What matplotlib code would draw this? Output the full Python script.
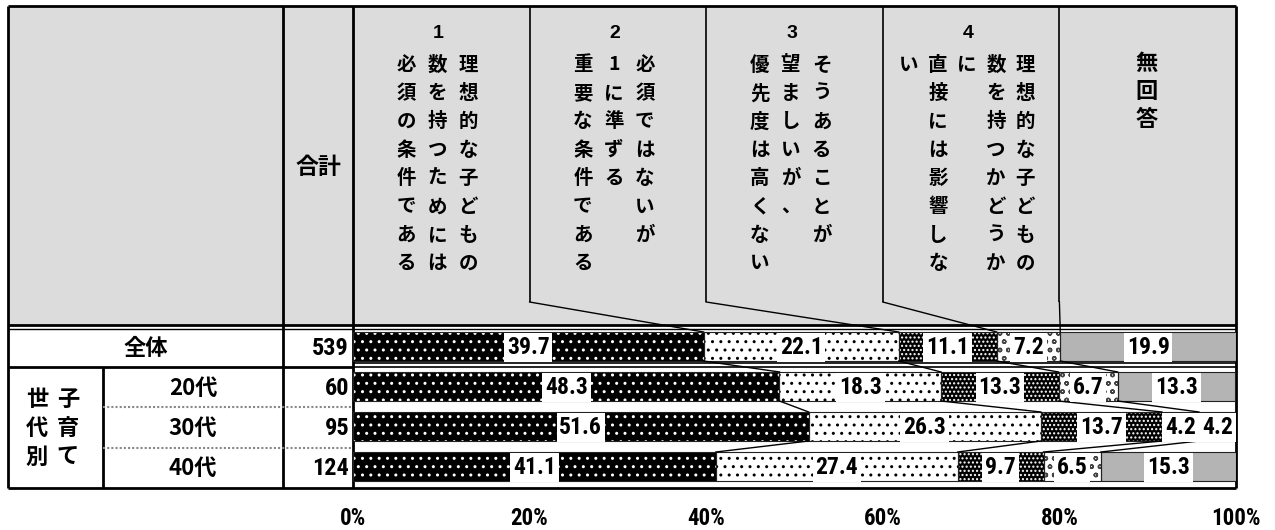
import matplotlib
matplotlib.use('Agg')
import matplotlib.pyplot as plt
from matplotlib import font_manager as fm
from matplotlib.font_manager import FontProperties
from matplotlib.patches import Rectangle
import numpy as np

# ---------------- data ----------------
groups = ['全体', '20代', '30代', '40代']
group_n = [539, 60, 95, 124]
parent_cols = ['子育て', '世代別']          # vertical columns, right to left
total_label = '合計'
s1 = [39.7, 48.3, 51.6, 41.1]
s2 = [22.1, 18.3, 26.3, 27.4]
s3 = [11.1, 13.3, 13.7, 9.7]
s4 = [7.2, 6.7, 4.2, 6.5]
s5 = [19.9, 13.3, 4.2, 15.3]
header_nums = ['1', '2', '3', '4']
header_cols = [                               # vertical columns, right to left
    ['理想的な子どもの', '数を持つためには', '必須の条件である'],
    ['必須ではないが', '1に準ずる', '重要な条件である'],
    ['そうあることが', '望ましいが、', '優先度は高くない'],
    ['理想的な子どもの', '数を持つかどうか', 'に', '直接には影響しな', 'い'],
]
noanswer_label = '無回答'
tick_vals = [0, 20, 40, 60, 80, 100]
tick_labels = ['0%', '20%', '40%', '60%', '80%', '100%']

# ---------------- fonts ----------------
W, H = 1275, 530
plt.rcParams['hatch.linewidth'] = 1.0


def stretch_val(s):
    table = {'ultra-condensed': 100, 'extra-condensed': 200, 'condensed': 300,
             'semi-condensed': 400, 'normal': 500}
    if isinstance(s, (int, float)):
        return s
    return table.get(s, 500)


def weight_val(w):
    table = {'ultralight': 100, 'light': 300, 'normal': 400, 'regular': 400,
             'book': 400, 'medium': 500, 'roman': 400, 'semibold': 600,
             'demibold': 600, 'demi': 600, 'bold': 700, 'heavy': 800,
             'extra bold': 800, 'black': 900}
    if isinstance(w, (int, float)):
        return w
    return table.get(w, 400)


cands = []
for f in fm.fontManager.ttflist:
    narrow = ('Narrow' in f.name or 'Condensed' in f.name
              or stretch_val(f.stretch) < 500 or 'Condensed' in f.fname
              or 'Narrow' in f.fname)
    if narrow and f.style == 'normal' and 'CJK' not in f.name:
        score = abs(weight_val(f.weight) - 700)
        pref = 0 if 'Liberation' in f.name else (1 if 'Roboto' in f.name else 2)
        cands.append((score, pref, f.fname))
cands.sort()
if cands:
    NUMP = lambda size: FontProperties(fname=cands[0][2], size=size)
else:
    NUMP = lambda size: FontProperties(family='Liberation Sans', weight='bold',
                                       size=size * 0.88)
JP = ['Noto Sans CJK JP', 'DejaVu Sans']

fig = plt.figure(figsize=(W / 100, H / 100), dpi=100)
bg = fig.add_axes([0, 0, 1, 1])
bg.set_xlim(0, W)
bg.set_ylim(H, 0)
bg.axis('off')

L, R = 353, 1236
TOP_AX, BOT_AX = 326.5, 486.5
ax = fig.add_axes([L / W, 1 - BOT_AX / H, (R - L) / W, (BOT_AX - TOP_AX) / H])
ax.set_xlim(0, 100)
ax.set_ylim(len(groups) - 0.5, -0.5)
ax.patch.set_visible(False)
for sp in ax.spines.values():
    sp.set_visible(False)
ax.set_yticks([])
ax.set_xticks(tick_vals, tick_labels)
for t in ax.get_xticklabels():
    t.set_fontproperties(NUMP(16.5))
ax.tick_params(axis='x', length=0, pad=15)


def to_bg(x, y):
    dx, dy = ax.transData.transform((x, y))
    return dx, H - dy


# ---------------- table frame ----------------
bg.add_patch(Rectangle((8, 6), R - 8, 319, fc='#dcdcdc', ec='none', zorder=0))
K = 'black'


def line(xs, ys, lw=1.2, **kw):
    bg.plot(xs, ys, color=kw.pop('color', K), lw=lw, solid_capstyle='butt',
            zorder=1, **kw)


line([8, R], [6, 6], 2)
line([8, 8], [6, 488], 2)
line([R, R], [6, 488], 2)
line([8, R], [488, 488], 2)
line([283, 283], [6, 488], 2)
line([L, L], [6, 488], 2)
line([8, R], [325, 325], 2)
line([8, R], [329, 329], 1.0)
line([8, L], [366.5, 366.5], 2)
line([L, R], [363, 363], 1.2)
line([L, R], [366.5, 366.5], 1.2)
line([103, 103], [366.5, 488], 2)
for yy in (407, 448):
    line([103, L], [yy, yy], 1.5, color='#888888', linestyle=(0, (1, 1)))

# ---------------- bars ----------------
rows = np.arange(len(groups))
h = 0.725
series = [s1, s2, s3, s4, s5]
faces = ['black', 'white', 'black', 'white', '#b4b4b4']
hcols = ['white', 'black', 'white', '#444444', '#b4b4b4']
hatches = ['..', '..', '....', 'oo', None]
left = np.zeros(len(groups))
cums = [left.copy()]
for vals, fc, hc, ht in zip(series, faces, hcols, hatches):
    vals = np.array(vals)
    ax.barh(rows, vals, left=left, height=h, color=fc, edgecolor=hc,
            hatch=ht, linewidth=0, zorder=2)
    ax.barh(rows, vals, left=left, height=h, fill=False, edgecolor='#222222',
            linewidth=0.8, zorder=3)
    for r, v, l in zip(rows, vals, left):
        ax.text(l + v / 2, r + 0.03, f'{v:.1f}', ha='center', va='center',
                fontproperties=NUMP(17), zorder=6,
                bbox=dict(boxstyle='square,pad=0.12', fc='white', ec='none'))
    left = left + vals
    cums.append(left.copy())

# connector lines between rows
for k in range(1, len(series)):
    for i in range(len(groups) - 1):
        ax.plot([cums[k][i], cums[k][i + 1]], [i + h / 2, i + 1 - h / 2],
                color='black', lw=1, zorder=4, clip_on=False)

# header dividers connecting to the first row
for k in range(1, len(series)):
    xd = to_bg(tick_vals[k], 0)[0]
    line([xd, xd], [6, 302], 1.2)
    xb, yb = to_bg(cums[k][0], -h / 2)
    bg.plot([xd, xb], [302, yb], color=K, lw=1.0, zorder=1)

# ---------------- header texts ----------------
divs = [to_bg(v, 0)[0] for v in tick_vals]
for j, cols in enumerate(header_cols):
    cx = (divs[j] + divs[j + 1]) / 2 - 4
    n = len(cols)
    sp = 31 if n == 3 else 29
    bg.text(cx + 1, 33, header_nums[j], ha='center', va='center',
            fontsize=14, fontweight='bold', family='Liberation Sans')
    for k, col in enumerate(cols):
        x = cx + ((n - 1) / 2 - k) * sp
        for r, ch in enumerate(col):
            bg.text(x, 65 + r * 28.4, ch, ha='center', va='center', fontsize=14,
                    fontweight='bold', family=JP)
cx5 = (divs[4] + divs[5]) / 2 - 1
for r, ch in enumerate(noanswer_label):
    bg.text(cx5, 63 + r * 28.5, ch, ha='center', va='center', fontsize=16,
            fontweight='bold', family=JP)
bg.text(318, 168, total_label, ha='center', va='center', fontsize=16.5,
        fontweight='bold', family=JP)

# ---------------- row labels ----------------
for i, (g, n) in enumerate(zip(groups, group_n)):
    yy = to_bg(0, i)[1] + 2
    gx = 145.5 if i == 0 else 193
    bg.text(gx, yy, g, ha='center', va='center', fontsize=16,
            fontweight='bold', family=JP)
    bg.text(349, yy, str(n), ha='right', va='center', fontproperties=NUMP(17.5))

ymid = to_bg(0, 2)[1] + 2
for k, col in enumerate(parent_cols):
    x = 68 - k * 31
    for r, ch in enumerate(col):
        bg.text(x, ymid + (r - 1) * 29, ch, ha='center', va='center',
                fontsize=16, fontweight='bold', family=JP)

fig.savefig('out.png', dpi=100)
